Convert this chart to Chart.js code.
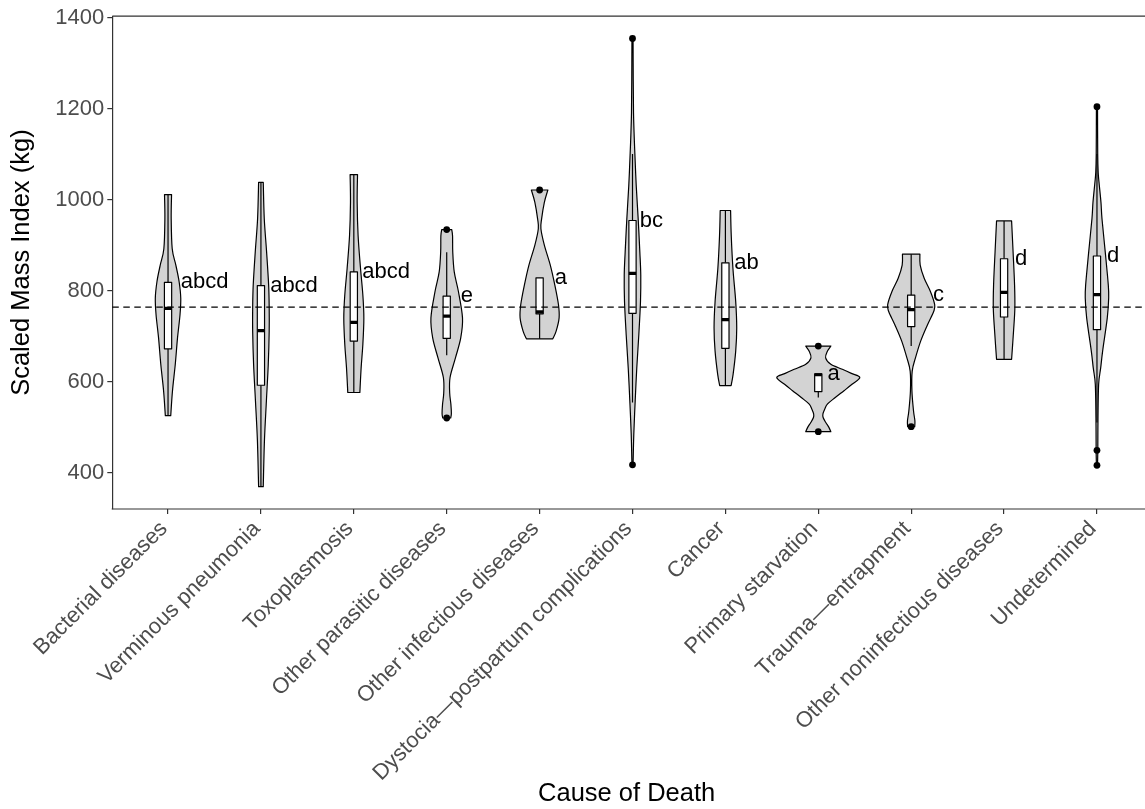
<!DOCTYPE html>
<html>
<head>
<meta charset="utf-8">
<script src="https://cdn.jsdelivr.net/npm/chart.js@4.4.1/dist/chart.umd.min.js"></script>
<style>
  html, body { margin: 0; padding: 0; background: #fff; overflow: hidden; width: 1145px; height: 809px; }
</style>
</head>
<body>
<canvas id="chart" width="1145" height="809"></canvas>
<script>
// Causes of death along the x axis
const categories = [
  'Bacterial diseases', 'Verminous pneumonia', 'Toxoplasmosis', 'Other parasitic diseases',
  'Other infectious diseases', 'Dystocia\u2014postpartum complications', 'Cancer',
  'Primary starvation', 'Trauma\u2014entrapment', 'Other noninfectious diseases', 'Undetermined'
];

// Significance group letters shown beside each box
const groupLetters = ['abcd', 'abcd', 'abcd', 'e', 'a', 'bc', 'ab', 'a', 'c', 'd', 'd'];

// Box plot statistics (kg)
const boxQ1       = [672, 592, 689, 695, 749, 750, 673, 578, 721, 742, 714];
const boxMedian   = [761, 712, 730, 744, 753, 838, 736, 615, 758, 796, 791];
const boxQ3       = [818, 811, 841, 788, 828, 954, 861, 617, 790, 870, 876];
const whiskerLow  = [525, 369, 576, 658, 694, 554, 591, 565, 678, 649, 510];
const whiskerHigh = [1011, 1038, 1055, 884, 828, 1100, 976, 617, 880, 953, 1100];
const outliers = [[], [], [], [520, 934], [1021], [417, 1354], [], [490, 678], [501], [], [416, 449, 1204]];

// Violin outlines: mass levels (kg) and density half-widths (in category units)
const violinLevels = [
  [525, 580, 638, 696, 747, 783, 820, 856, 892, 958, 1011],
  [369, 471, 558, 638, 711, 761, 812, 885, 958, 1038],
  [576, 631, 681, 740, 791, 849, 921, 994, 1055],
  [520, 530, 550, 575, 609, 652, 696, 740, 798, 841, 885, 920, 934],
  [694, 711, 740, 769, 812, 856, 900, 936, 958, 994, 1021],
  [417, 485, 558, 630, 703, 776, 834, 885, 958, 1031, 1103, 1140, 1190, 1260, 1354],
  [591, 616, 667, 718, 776, 849, 921, 976],
  [490, 500, 510, 521, 529, 540, 551, 565, 580, 594, 609, 618, 627, 638, 652, 667, 678],
  [501, 514, 536, 580, 623, 652, 689, 725, 754, 769, 798, 827, 856, 880],
  [649, 711, 761, 812, 885, 953],
  [416, 449, 521, 594, 630, 667, 740, 783, 812, 885, 958, 994, 1038, 1060, 1100, 1204]
];
const violinHalfWidths = [
  [.029, .048, .078, .102, .129, .137, .119, .084, .045, .034, .038],
  [.025, .038, .059, .079, .089, .089, .083, .061, .036, .025],
  [.065, .079, .097, .108, .097, .072, .046, .036, .040],
  [.043, .050, .045, .032, .036, .094, .151, .170, .126, .081, .065, .063, .054],
  [.142, .178, .210, .203, .164, .115, .051, .014, .022, .051, .089],
  [.006, .014, .029, .046, .068, .086, .089, .079, .061, .040, .025, .018, .011, .008, .006],
  [.061, .083, .111, .122, .111, .081, .063, .056],
  [.135, .113, .081, .052, .050, .070, .100, .183, .277, .363, .447, .356, .259, .135, .079, .099, .135],
  [.038, .040, .025, .008, .011, .046, .102, .176, .242, .253, .207, .140, .097, .094],
  [.081, .102, .116, .113, .097, .081],
  [.006, .009, .011, .018, .040, .061, .111, .126, .122, .089, .054, .043, .022, .013, .008, .006]
];

// Overall reference level (dashed line) and y-axis ticks
const referenceLine = 763.5;
const yTickValues = [400, 600, 800, 1000, 1200, 1400];

const FONT = '"Liberation Sans", Arial, Helvetica, sans-serif';
const INK = '#000000';
const AXIS = '#333333';
const BOX_HALF = 0.039;
// category axis: 0.6 of a step either side of the first/last category; the panel is cut by the canvas edge
const X_MIN = -0.6;
const X_PANEL_END = categories.length - 1 + 0.6;
const X_MAX = 10.474;

Chart.defaults.font.family = FONT;

function halfWidthAt(i, v) {
  const lv = violinLevels[i], hw = violinHalfWidths[i];
  if (v <= lv[0]) return hw[0];
  for (let k = 1; k < lv.length; k++) {
    if (v <= lv[k]) {
      const t = (v - lv[k - 1]) / (lv[k] - lv[k - 1]);
      return hw[k - 1] + t * (hw[k] - hw[k - 1]);
    }
  }
  return hw[hw.length - 1];
}

// Smooth curve through pixel points (Catmull-Rom as cubic Béziers); path already at pts[0]
function splineThrough(ctx, pts) {
  for (let k = 0; k < pts.length - 1; k++) {
    const p0 = pts[k - 1] || pts[k], p1 = pts[k], p2 = pts[k + 1], p3 = pts[k + 2] || pts[k + 1];
    ctx.bezierCurveTo(
      p1[0] + (p2[0] - p0[0]) / 6, p1[1] + (p2[1] - p0[1]) / 6,
      p2[0] - (p3[0] - p1[0]) / 6, p2[1] - (p3[1] - p1[1]) / 6,
      p2[0], p2[1]
    );
  }
}

const violinPlugin = {
  id: 'violinBoxes',
  beforeDatasetsDraw(chart) {
    const { ctx, chartArea, scales: { x, y } } = chart;
    ctx.save();
    ctx.beginPath();
    ctx.rect(chartArea.left, chartArea.top, chart.width - chartArea.left, chartArea.height);
    ctx.clip();
    categories.forEach((_, i) => {
      const lv = violinLevels[i], hw = violinHalfWidths[i];
      const right = lv.map((v, k) => [x.getPixelForValue(i + hw[k]), y.getPixelForValue(v)]);
      const left = lv.map((v, k) => [x.getPixelForValue(i - hw[k]), y.getPixelForValue(v)]).reverse();
      ctx.beginPath();
      ctx.moveTo(right[0][0], right[0][1]);
      splineThrough(ctx, right);
      ctx.lineTo(left[0][0], left[0][1]);
      splineThrough(ctx, left);
      ctx.closePath();
      ctx.fillStyle = '#D3D3D3';
      ctx.fill();
      ctx.lineWidth = 1.2;
      ctx.strokeStyle = INK;
      ctx.lineJoin = 'round';
      ctx.stroke();

      // whiskers
      const xc = x.getPixelForValue(i);
      ctx.beginPath();
      ctx.moveTo(xc, y.getPixelForValue(whiskerHigh[i]));
      ctx.lineTo(xc, y.getPixelForValue(boxQ3[i]));
      ctx.moveTo(xc, y.getPixelForValue(boxQ1[i]));
      ctx.lineTo(xc, y.getPixelForValue(whiskerLow[i]));
      ctx.lineWidth = 1.2;
      ctx.stroke();

      // box
      const xl = x.getPixelForValue(i - BOX_HALF), xr = x.getPixelForValue(i + BOX_HALF);
      const yt = y.getPixelForValue(boxQ3[i]), yb = y.getPixelForValue(boxQ1[i]);
      ctx.fillStyle = '#FFFFFF';
      ctx.fillRect(xl, yt, xr - xl, yb - yt);
      ctx.strokeRect(xl, yt, xr - xl, yb - yt);

      // median
      const ym = y.getPixelForValue(boxMedian[i]);
      ctx.beginPath();
      ctx.moveTo(xl, ym);
      ctx.lineTo(xr, ym);
      ctx.lineWidth = 3.2;
      ctx.lineCap = 'butt';
      ctx.stroke();
    });
    ctx.restore();
  },
  afterDatasetsDraw(chart) {
    const { ctx, scales: { x, y } } = chart;
    ctx.save();
    ctx.fillStyle = INK;
    ctx.font = '22px ' + FONT;
    ctx.textAlign = 'left';
    ctx.textBaseline = 'middle';
    groupLetters.forEach((txt, i) => {
      // letter sits just right of the violin at the upper quartile, or beside the box where the violin is very wide
      let off = halfWidthAt(i, boxQ3[i]);
      if (off > 0.25) off = BOX_HALF + 0.045;
      const px = x.getPixelForValue(i + off) + 1.5;
      ctx.fillText(txt, px, y.getPixelForValue(boxQ3[i]));
    });
    ctx.restore();
  },
  afterDraw(chart) {
    // panel top edge and x-axis line, running on to the canvas edge
    const { ctx, chartArea } = chart;
    ctx.save();
    ctx.strokeStyle = AXIS;
    ctx.lineWidth = 1.2;
    ctx.beginPath();
    ctx.moveTo(chartArea.left, chartArea.top);
    ctx.lineTo(chart.width, chartArea.top);
    ctx.moveTo(chartArea.left - 0.6, chartArea.bottom);
    ctx.lineTo(chart.width, chartArea.bottom);
    ctx.stroke();
    ctx.restore();
  }
};

const outlierPoints = outliers.flatMap((vals, i) => vals.map(v => ({ x: i, y: v })));

new Chart(document.getElementById('chart'), {
  type: 'scatter',
  data: {
    datasets: [
      {
        label: 'Outliers',
        data: outlierPoints,
        pointRadius: 3.4,
        pointBackgroundColor: INK,
        pointBorderWidth: 0,
        order: 0
      },
      {
        type: 'line',
        label: 'Reference',
        data: [{ x: X_MIN, y: referenceLine }, { x: X_PANEL_END, y: referenceLine }],
        borderColor: INK,
        borderWidth: 1.3,
        borderDash: [6.5, 4.5],
        pointRadius: 0,
        fill: false,
        clip: false,
        order: 1
      }
    ]
  },
  options: {
    responsive: false,
    animation: false,
    events: [],
    layout: { padding: { top: 12.7, right: 0, left: 0, bottom: 0 } },
    plugins: { legend: { display: false }, tooltip: { enabled: false } },
    scales: {
      x: {
        type: 'linear',
        min: X_MIN,
        max: X_MAX,
        afterBuildTicks: (axis) => { axis.ticks = categories.map((_, i) => ({ value: i })); },
        afterFit: (axis) => { axis.height = 300; },
        ticks: {
          autoSkip: false,
          minRotation: 45,
          maxRotation: 45,
          padding: 2,
          labelOffset: -4,
          color: '#4D4D4D',
          font: { size: 22 },
          callback: (v) => categories[v]
        },
        grid: { display: true, drawOnChartArea: false, drawTicks: true, tickLength: 5, color: AXIS, lineWidth: 1.2 },
        border: { display: false },
        title: { display: true, text: 'Cause of Death', color: INK, font: { size: 25.5 }, padding: { top: 0, bottom: 0 } }
      },
      y: {
        type: 'linear',
        min: 320,
        max: 1403,
        afterBuildTicks: (axis) => { axis.ticks = yTickValues.map(v => ({ value: v })); },
        afterFit: (axis) => { axis.width = 112.3; },
        ticks: { padding: 3, color: '#4D4D4D', font: { size: 22 }, callback: (v) => String(v) },
        grid: { display: true, drawOnChartArea: false, drawTicks: true, tickLength: 5, color: AXIS, lineWidth: 1.2 },
        border: { display: true, color: AXIS, width: 1.2 },
        title: { display: true, text: 'Scaled Mass Index (kg)', color: INK, font: { size: 25.5 }, padding: { top: 6.5, bottom: 0 } }
      }
    }
  },
  plugins: [violinPlugin]
});
</script>
</body>
</html>
